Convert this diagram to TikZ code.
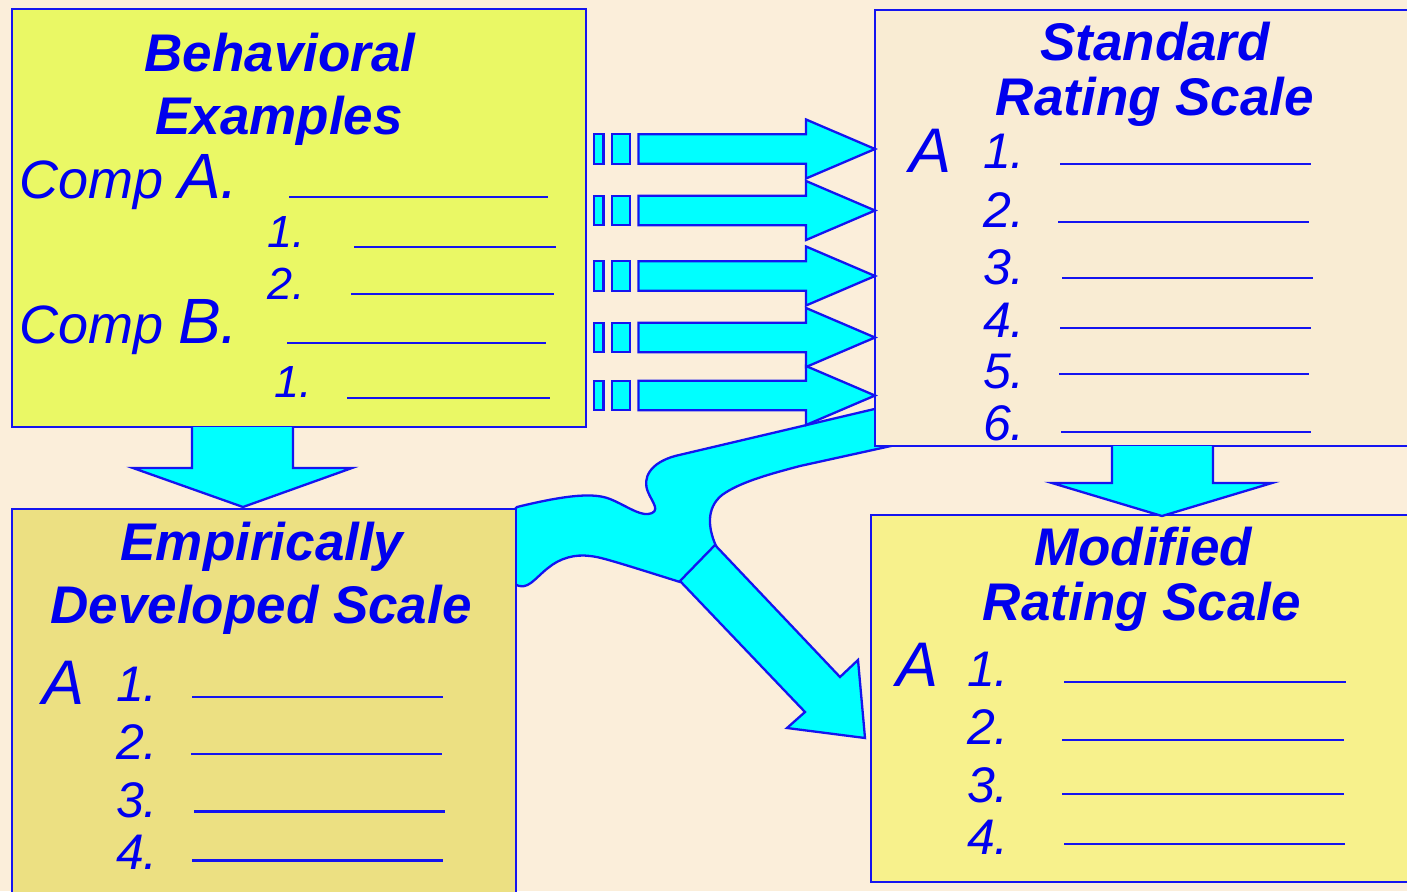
\documentclass[tikz,border=0pt]{standalone}
\usepackage{fontspec}
\setmainfont{Liberation Sans}
\definecolor{bgcol}{HTML}{FBEEDA}
\definecolor{stdcol}{HTML}{F9ECD3}
\definecolor{behcol}{HTML}{EAF865}
\definecolor{empcol}{HTML}{ECE082}
\definecolor{modcol}{HTML}{F7F18C}
\definecolor{ink}{HTML}{0000EE}
\definecolor{edge}{HTML}{1414F0}
\definecolor{flow}{HTML}{00FFFF}
\tikzset{
  box/.style={draw=edge, line width=2.5pt, inner sep=0, outer sep=0, anchor=north west},
  arrowline/.style={draw=edge, fill=flow, line width=2.3pt, line join=miter},
  uline/.style={draw=edge, line width=2.8pt},
  title/.style={text=ink, inner sep=0, anchor=base, font=\fontsize{53}{60}\selectfont\bfseries\itshape},
  num/.style={text=ink, inner sep=0, anchor=base east, font=\fontsize{50}{56}\selectfont\itshape},
  numsm/.style={text=ink, inner sep=0, anchor=base east, font=\fontsize{45}{52}\selectfont\itshape},
  bigletter/.style={text=ink, inner sep=0, anchor=base west, font=\fontsize{63}{70}\selectfont\itshape},
  comp/.style={text=ink, inner sep=0, anchor=base west, font=\fontsize{54}{60}\selectfont\itshape},
  rarrow/.pic={
    \draw[arrowline] (-281,-14.7) rectangle (-271.5,14.7);
    \draw[arrowline] (-263,-14.7) rectangle (-245,14.7);
    \draw[arrowline] (-236.5,-14.7) -- (-69,-14.7) -- (-69,-29.5) -- (0,0)
      -- (-69,29.5) -- (-69,14.7) -- (-236.5,14.7) -- cycle;
  }
}
\begin{document}
\begin{tikzpicture}[x=1pt,y=-1pt]
\useasboundingbox (0,0) rectangle (1407,891);
\fill[bgcol] (0,0) rectangle (1407,891);

% forked band running from the standard scale to the lower boxes
\path[arrowline] (900,403) -- (675,456)
  .. controls (650,463) and (642,478) .. (648,492)
  .. controls (652,502) and (662,512) .. (648,514)
  .. controls (638,515) and (625,505) .. (610,499)
  .. controls (595,493) and (570,494) .. (517,507)
  -- (515,509) -- (515,584)
  .. controls (527,592) and (535,578) .. (548,568)
  .. controls (560,558) and (575,554) .. (590,556)
  .. controls (600,557) and (610,560) .. (680,582)
  -- (716,546)
  .. controls (708,528) and (706,508) .. (722,495)
  .. controls (740,482) and (770,474) .. (800,466)
  -- (900,444) -- cycle;

% the four boxes
\node[box, fill=behcol, minimum width=574pt, minimum height=418pt] (beh) at (12,9) {};
\node[box, fill=stdcol, minimum width=545pt, minimum height=436pt] (std) at (875,10) {};
\node[box, fill=empcol, minimum width=504pt, minimum height=391pt] (emp) at (12,509) {};
\node[box, fill=modcol, minimum width=549pt, minimum height=367pt] (mod) at (871,515) {};

% down arrows
\draw[arrowline] (192,427) -- (192,468) -- (133,468) -- (243,507) -- (352,468) -- (293,468) -- (293,427);
\draw[arrowline] (1112,446) -- (1112,483) -- (1052,483) -- (1162,516) -- (1272,483) -- (1213,483) -- (1213,446);

% striped arrows into the standard scale
\pic at (std.west |- 0,149) {rarrow};
\pic at (std.west |- 0,210.5) {rarrow};
\pic at (std.west |- 0,276) {rarrow};
\pic at (std.west |- 0,337.5) {rarrow};
\pic at (std.west |- 0,395.5) {rarrow};

% diagonal branch into the modified scale
\draw[arrowline] (680,581) -- (805,712) -- (787,728) -- (865,738) -- (858,660) -- (840,677) -- (715,545) -- cycle;

% Behavioral Examples
\node[title] (behT1) at (280,71) {Behavioral};
\node[title] (behT2) at (279,134) {Examples};
\node[comp] (compA) at (19,198) {Comp {\fontsize{64}{70}\selectfont A.}};
\node[numsm] (bA1) at (305,247) {1.};
\node[numsm] (bA2) at (305,299) {2.};
\node[comp] (compB) at (19,343) {Comp {\fontsize{64}{70}\selectfont B.}};
\node[numsm] (bB1) at (312,397) {1.};
\draw[uline] (289,197) -- (548,197);
\draw[uline] (354,247) -- (556,247);
\draw[uline] (351,294) -- (554,294);
\draw[uline] (287,343) -- (546,343);
\draw[uline] (347,398) -- (550,398);

% Standard Rating Scale
\node[title] (stdT1) at (1155,60) {Standard};
\node[title] (stdT2) at (1155,115) {Rating Scale};
\node[bigletter] (stdA) at (909,172) {A};
\node[num] (s1) at (1025,168) {1.};
\node[num] (s2) at (1025,227) {2.};
\node[num] (s3) at (1025,284) {3.};
\node[num] (s4) at (1025,337) {4.};
\node[num] (s5) at (1025,388) {5.};
\node[num] (s6) at (1025,440) {6.};
\draw[uline] (1060,164) -- (1311,164);
\draw[uline] (1058,222) -- (1309,222);
\draw[uline] (1062,278) -- (1313,278);
\draw[uline] (1060,328) -- (1311,328);
\draw[uline] (1059,374) -- (1309,374);
\draw[uline] (1061,432) -- (1311,432);

% Empirically Developed Scale
\node[title] (empT1) at (262,560) {Empirically};
\node[title] (empT2) at (261,623) {Developed Scale};
\node[bigletter] (empA) at (42,704) {A};
\node[num] (e1) at (158,701) {1.};
\node[num] (e2) at (158,759) {2.};
\node[num] (e3) at (158,817) {3.};
\node[num] (e4) at (158,869) {4.};
\draw[uline] (192,697) -- (443,697);
\draw[uline] (191,754) -- (442,754);
\draw[uline] (194,811.5) -- (444.5,811.5);
\draw[uline] (192,860.5) -- (443,860.5);

% Modified Rating Scale
\node[title] (modT1) at (1143,565) {Modified};
\node[title] (modT2) at (1142,620) {Rating Scale};
\node[bigletter] (modA) at (896,686) {A};
\node[num] (m1) at (1009,686) {1.};
\node[num] (m2) at (1009,744) {2.};
\node[num] (m3) at (1009,802) {3.};
\node[num] (m4) at (1009,854) {4.};
\draw[uline] (1064,682) -- (1346,682);
\draw[uline] (1062,740) -- (1344,740);
\draw[uline] (1062,794) -- (1344,794);
\draw[uline] (1064,844) -- (1345,844);
\end{tikzpicture}
\end{document}
